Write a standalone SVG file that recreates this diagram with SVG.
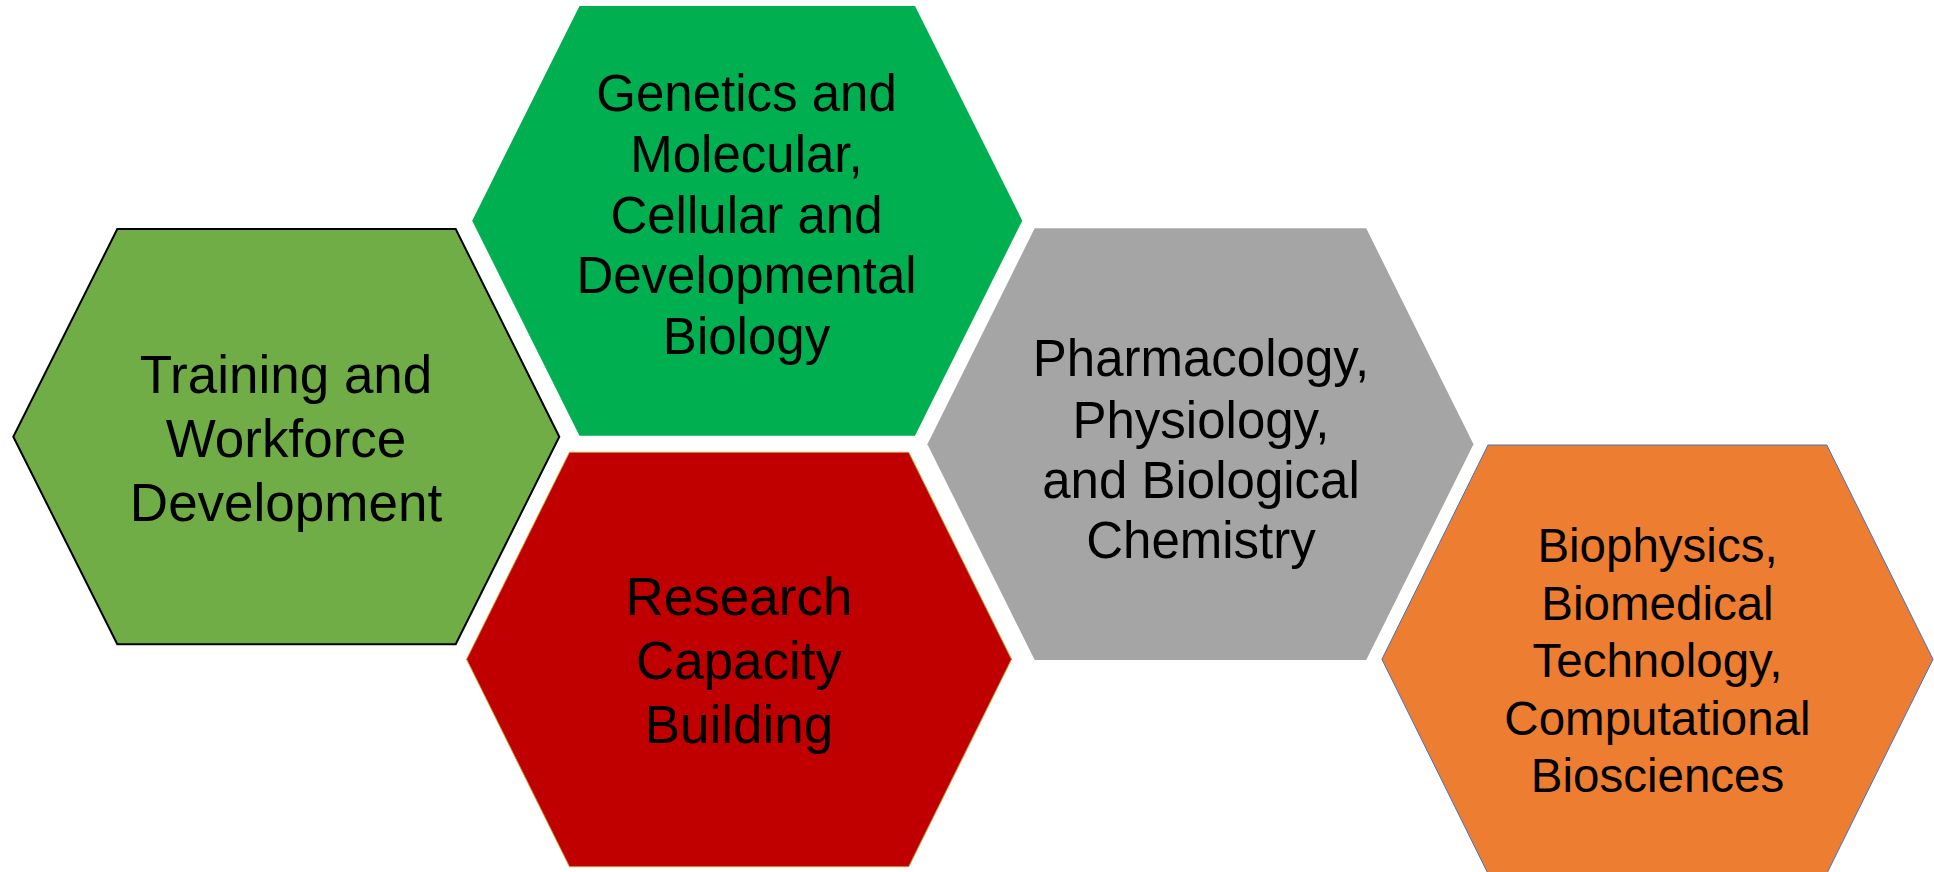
<svg xmlns="http://www.w3.org/2000/svg" width="1934" height="872" viewBox="0 0 1934 872">
  <style>
    .lbl { font-family: "Liberation Sans", Arial, Helvetica, sans-serif; fill: #000000; text-anchor: middle; }
    .f53 { font-size: 53px; }
    .f51 { font-size: 51px; }
    .f48 { font-size: 47.5px; }
  </style>
  <rect x="0" y="0" width="1934" height="872" fill="#ffffff"/>
  <g id="connectors"/>

  <g id="node-training">
    <polygon points="117.3,229 455.7,229 559.3,436.7 455.7,644.3 117.3,644.3 13.3,436.7" fill="#70AD47" stroke="#000000" stroke-width="2"/>
    <text class="lbl f53" x="286" y="392.7">Training and</text>
    <text class="lbl f53" x="286" y="456.7">Workforce</text>
    <text class="lbl f53" x="286" y="520.7">Development</text>
  </g>

  <g id="node-genetics">
    <polygon points="579.5,6 915,6 1022.3,220.7 915,435.7 579.5,435.7 472.2,220.7" fill="#00B050"/>
    <text class="lbl f51" x="746.5" y="111">Genetics and</text>
    <text class="lbl f51" x="746.5" y="172">Molecular,</text>
    <text class="lbl f51" x="746.5" y="232.5">Cellular and</text>
    <text class="lbl f51" x="746.5" y="293.3">Developmental</text>
    <text class="lbl f51" x="746.5" y="353.5">Biology</text>
  </g>

  <g id="node-research">
    <polygon points="569.5,452.3 908.7,452.3 1011.5,659.3 908.7,866.7 569.5,866.7 466.6,659.3" fill="#C00000" stroke="#C8962E" stroke-width="1"/>
    <text class="lbl f53" x="739" y="615">Research</text>
    <text class="lbl f53" x="739" y="678.5">Capacity</text>
    <text class="lbl f53" x="739" y="742.5">Building</text>
  </g>

  <g id="node-pharmacology">
    <polygon points="1034.7,228.3 1366.2,228.3 1473.5,444.3 1366.2,660 1034.7,660 927.4,444.3" fill="#A5A5A5"/>
    <text class="lbl f51" x="1201" y="375.7">Pharmacology,</text>
    <text class="lbl f51" x="1201" y="437.5">Physiology,</text>
    <text class="lbl f51" x="1201" y="497.5">and Biological</text>
    <text class="lbl f51" x="1201" y="558.3">Chemistry</text>
  </g>

  <g id="node-biophysics">
    <polygon points="1488,445 1826.8,445 1933,659.3 1826.8,873.6 1488,873.6 1381.9,659.3" fill="#ED7D31" stroke="#4472C4" stroke-width="1"/>
    <text class="lbl f48" x="1657.5" y="562.3">Biophysics,</text>
    <text class="lbl f48" x="1657.5" y="620">Biomedical</text>
    <text class="lbl f48" x="1657.5" y="677.3">Technology,</text>
    <text class="lbl f48" x="1657.5" y="735">Computational</text>
    <text class="lbl f48" x="1657.5" y="791.7">Biosciences</text>
  </g>
</svg>
